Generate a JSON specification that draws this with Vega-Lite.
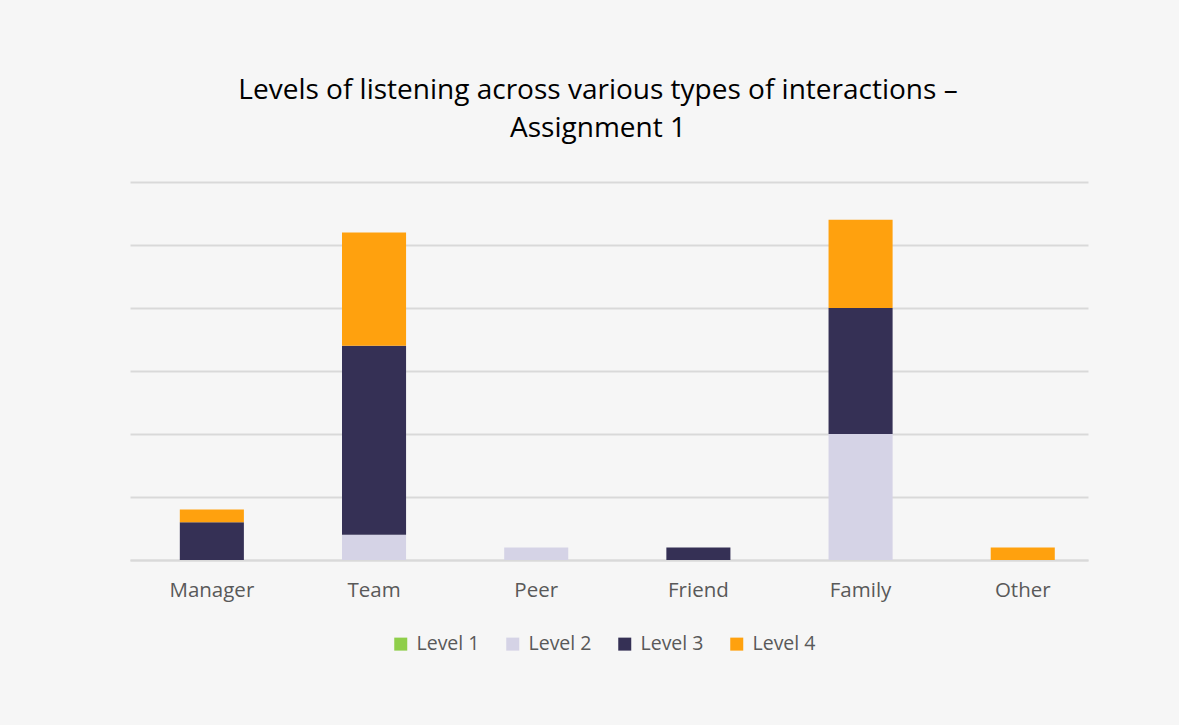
{
  "$schema": "https://vega.github.io/schema/vega-lite/v6.json",
  "autosize": {"type": "none"},
  "width": 958,
  "height": 378,
  "padding": {"left": 130, "top": 182, "right": 91, "bottom": 165},
  "background": "#f6f6f6",
  "title": {
    "text": ["Levels of listening across various types of interactions –", "Assignment 1"],
    "anchor": "middle",
    "frame": "group",
    "font": "Open Sans",
    "fontSize": 28,
    "fontWeight": "normal",
    "color": "#000000",
    "lineHeight": 38,
    "offset": 39,
    "dx": -11
  },
  "data": {
    "values": [
      {"interaction": "Manager", "level": "Level 3", "count": 3},
      {"interaction": "Manager", "level": "Level 4", "count": 1},
      {"interaction": "Team", "level": "Level 2", "count": 2},
      {"interaction": "Team", "level": "Level 3", "count": 15},
      {"interaction": "Team", "level": "Level 4", "count": 9},
      {"interaction": "Peer", "level": "Level 2", "count": 1},
      {"interaction": "Friend", "level": "Level 3", "count": 1},
      {"interaction": "Family", "level": "Level 2", "count": 10},
      {"interaction": "Family", "level": "Level 3", "count": 10},
      {"interaction": "Family", "level": "Level 4", "count": 7},
      {"interaction": "Other", "level": "Level 4", "count": 1}
    ]
  },
  "mark": {"type": "bar"},
  "encoding": {
    "x": {
      "field": "interaction",
      "type": "nominal",
      "sort": ["Manager", "Team", "Peer", "Friend", "Family", "Other"],
      "scale": {"paddingInner": 0.605, "paddingOuter": 0.256, "align": 0.6},
      "axis": {
        "title": null,
        "labelAngle": 0,
        "labelFont": "Open Sans",
        "labelFontSize": 20.5,
        "labelColor": "#595959",
        "labelPadding": 20,
        "ticks": false,
        "domainColor": "#d9d9d9",
        "domainWidth": 2
      }
    },
    "y": {
      "field": "count",
      "type": "quantitative",
      "aggregate": "sum",
      "stack": "zero",
      "scale": {"domain": [0, 30], "nice": false},
      "axis": {
        "title": null,
        "values": [0, 5, 10, 15, 20, 25, 30],
        "labels": false,
        "ticks": false,
        "domain": false,
        "grid": true,
        "gridColor": "#d9d9d9",
        "gridWidth": 2
      }
    },
    "color": {
      "field": "level",
      "type": "nominal",
      "scale": {
        "domain": ["Level 1", "Level 2", "Level 3", "Level 4"],
        "range": ["#8fce4a", "#d5d3e6", "#353055", "#ffa10e"]
      },
      "legend": {
        "title": null,
        "orient": "none",
        "legendX": 261,
        "legendY": 452,
        "direction": "horizontal",
        "symbolType": "square",
        "symbolSize": 169,
        "symbolStrokeWidth": 0,
        "labelFont": "Open Sans",
        "labelFontSize": 19.5,
        "labelColor": "#595959",
        "labelOffset": 6,
        "columnPadding": 23
      }
    },
    "order": {"field": "level", "type": "nominal", "sort": "ascending"}
  },
  "config": {
    "view": {"stroke": null}
  }
}
